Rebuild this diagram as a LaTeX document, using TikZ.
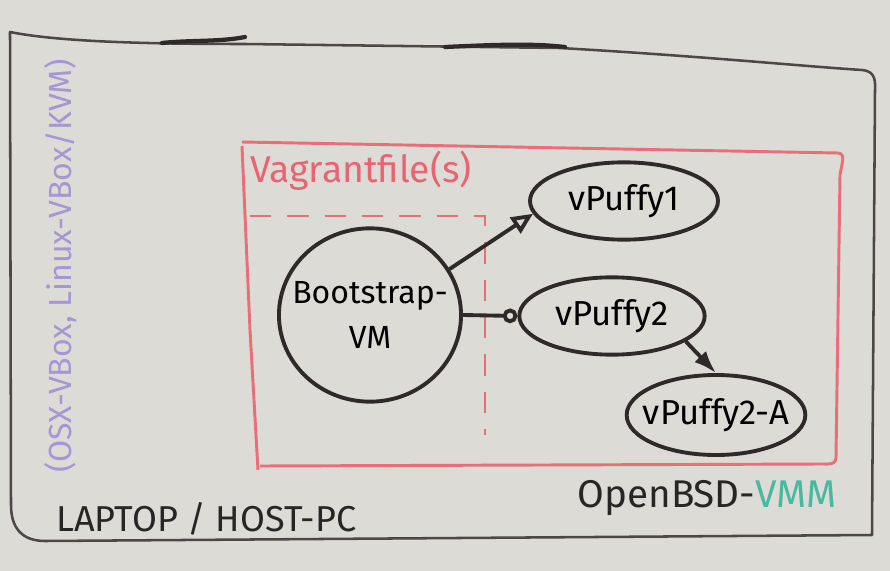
\documentclass[tikz,border=0pt]{standalone}
\usepackage{fontspec}
\setmainfont{Fira Sans}
\usetikzlibrary{shapes.geometric,arrows.meta}

\begin{document}
\begin{tikzpicture}[x=0.75pt,y=0.75pt,yscale=-1,xscale=1,
  marker/.style={draw={rgb, 255:red, 45; green, 42; blue, 40 }, line width=2.9pt},
  vm/.style={marker, ellipse, inner xsep=-10pt, inner ysep=-6pt, font=\fontsize{26}{30}\selectfont},
  redline/.style={draw={rgb, 255:red, 232; green, 110; blue, 120 }, line width=2.2pt},
  hand/.style={inner sep=0.75pt, font=\fontsize{28}{32}\selectfont}]
%set diagram to the size of the board
\useasboundingbox (0,0) rectangle (890,571);
\fill [color={rgb, 255:red, 220; green, 219; blue, 214 }] (0,0) rectangle (890,571);

%Shape: Outer Box (laptop)
\draw [color={rgb, 255:red, 75; green, 72; blue, 70 }, line width=1.9pt, line join=round]
  (11,505) -- (10,32) .. controls (60,42) and (150,44) .. (245,44) -- (560,48) .. controls (700,56) and (800,66) .. (862,70) .. controls (872,71) and (876,76) .. (875,90) -- (872,535) -- (45,541) .. controls (22,541) and (11,528) .. (11,505) ;
%Straight Lines (thick marks on top edge)
\draw [marker, line width=3.2pt, line cap=round] (162,43) .. controls (190,40) and (220,42) .. (245,37) ;
\draw [marker, line width=3.2pt, line cap=round] (445,47) .. controls (490,45) and (530,43) .. (565,47) ;

%Shape: Red Box (OpenBSD)
\draw [redline, line join=round]
  (242,142) -- (838,153) .. controls (846,154) and (842,162) .. (840,175) -- (836,458) .. controls (835,465) and (830,464) .. (822,464) -- (260,466) ;
\draw [redline] (242,146) -- (250,330) -- (258,470) ;
%Dashed Lines (Vagrantfile)
\draw [redline, dash pattern=on 16pt off 12pt] (250,216) -- (485,216) -- (485,435) ;

% Text Node
\node (vagrant) [hand, anchor=north west, color={rgb, 255:red, 232; green, 100; blue, 112 }] at (249,150) {Vagrantfile(s)};
% Text Node
\node (hyper) [hand, rotate=90, font=\fontsize{24}{28}\selectfont, color={rgb, 255:red, 165; green, 150; blue, 212 }] at (61,266) {(OSX-VBox, Linux-VBox/KVM)};
% Text Node
\node (laptop) [hand, anchor=south west, font=\fontsize{27}{30}\selectfont, color={rgb, 255:red, 40; green, 38; blue, 36 }] at (55,537) {LAPTOP / HOST-PC};
% Text Node
\node (host) [hand, anchor=south east, font=\fontsize{29}{32}\selectfont, color={rgb, 255:red, 40; green, 38; blue, 36 }] at (838,517) {OpenBSD-\textcolor[RGB]{70,185,160}{VMM}};

%Shape: Ellipse (bootstrap)
\node (boot) [vm, minimum width=135pt, minimum height=130pt, align=center, font=\fontsize{24}{34}\selectfont] at (370,315) {Bootstrap-\\VM};
%Shape: Ellipse
\node (puffy1) [vm, minimum width=141pt, minimum height=58pt] at (624,201) {vPuffy1};
%Shape: Ellipse
\node (puffy2) [vm, minimum width=139pt, minimum height=58pt] at (612,316) {vPuffy2};
%Shape: Ellipse
\node (puffytwoa) [vm, minimum width=134pt, minimum height=60pt] at (716,415) {vPuffy2-A};

%Straight Lines
\draw [marker, -{Triangle[open, length=16pt, width=14pt]}] (boot.30) -- (puffy1.188) ;
%Straight Lines
\draw [marker, -{Circle[open, length=11pt]}] (boot.east) -- (puffy2.west) ;
%Straight Lines
\draw [marker, -{Latex[length=17pt, width=12pt]}] (puffy2.-19) -- (puffytwoa.north) ;

\end{tikzpicture}
\end{document}
